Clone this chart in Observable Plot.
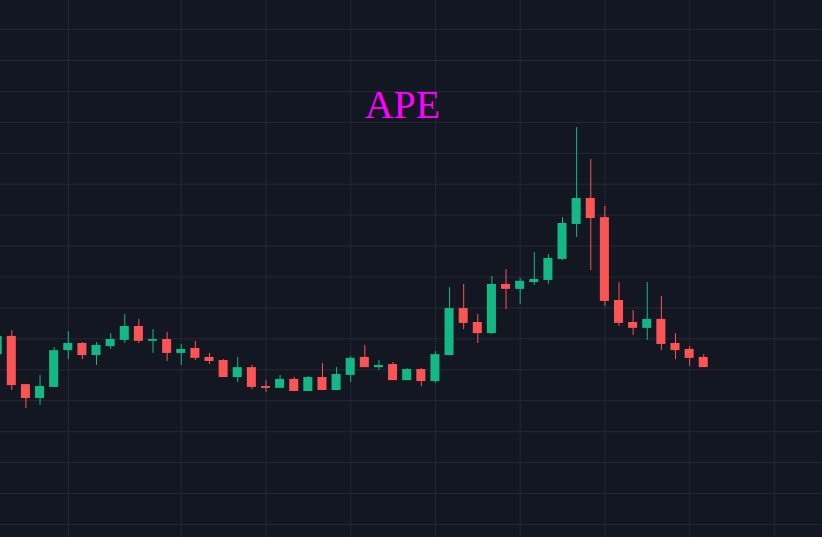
<!DOCTYPE html>
<html>
<head>
<meta charset="utf-8">
<script src="https://cdn.jsdelivr.net/npm/d3@7"></script>
<script src="https://cdn.jsdelivr.net/npm/@observablehq/plot@0.6"></script>
<style>
  html, body { margin: 0; padding: 0; background: #131722; overflow: hidden; }
  #chart svg { display: block; }
</style>
</head>
<body>
<div id="chart"></div>
<script>
const title = "APE";
// candle index (one per period), first one is partially cut at the left edge
const days = [-1,0,1,2,3,4,5,6,7,8,9,10,11,12,13,14,15,16,17,18,19,20,21,22,23,24,25,26,27,28,29,30,31,32,33,34,35,36,37,38,39,40,41,42,43,44,45,46,47,48,49];
const opens  = [10.49,11.08,9.52,9.07,9.43,10.62,10.85,10.46,10.75,10.95,11.40,10.92,10.98,10.53,10.69,10.40,10.30,9.75,10.07,9.46,9.40,9.69,9.30,9.75,9.33,9.82,10.40,10.07,10.17,9.65,10.01,9.62,10.46,11.98,11.53,11.17,12.76,12.60,12.82,12.89,13.57,14.70,15.54,14.92,12.24,11.53,11.34,11.63,10.85,10.66,10.40];
const highs  = [11.17,11.27,9.53,9.82,10.72,11.24,10.88,10.88,11.17,11.79,11.63,11.30,11.21,10.82,10.92,10.53,10.33,10.40,10.14,9.65,9.82,9.75,9.78,10.20,10.07,10.43,10.79,10.30,10.24,10.04,10.04,10.59,12.66,12.76,11.79,13.02,13.24,12.95,13.79,13.73,14.92,17.83,16.80,15.28,12.82,11.92,12.82,12.37,11.17,10.75,10.49];
const lows   = [10.43,9.33,8.75,8.85,9.43,10.33,10.33,10.14,10.66,10.85,10.85,10.53,10.27,10.14,10.30,10.17,9.75,9.59,9.36,9.27,9.40,9.30,9.30,9.33,9.33,9.59,10.07,9.98,9.65,9.65,9.46,9.56,10.46,11.30,10.85,11.14,11.95,12.11,12.73,12.76,13.53,14.28,13.21,12.05,11.40,11.11,10.95,10.62,10.33,10.11,10.07];
const closes = [11.08,9.49,9.07,9.46,10.62,10.85,10.46,10.79,10.98,11.40,10.92,10.98,10.53,10.66,10.37,10.27,9.75,10.07,9.43,9.40,9.69,9.30,9.75,9.33,9.85,10.37,10.07,10.14,9.65,10.01,9.62,10.49,11.98,11.50,11.17,12.76,12.60,12.86,12.92,13.60,14.73,15.54,14.89,12.21,11.50,11.34,11.63,10.82,10.62,10.37,10.07];
const xGridTicks = [4,12,18,24,30,36,42,48,54];
const yGridTicks = [5,6,7,8,9,10,11,12,13,14,15,16,17,18,19,20,21];

const upColor = "#14b885";
const downColor = "#fb5454";
const data = days.map((d, k) => ({day: d, open: opens[k], high: highs[k], low: lows[k], close: closes[k]}));
const col = d => d.close >= d.open ? upColor : downColor;
const half = 0.32;

const chart = Plot.plot({
  width: 822,
  height: 537,
  marginTop: 0, marginBottom: 0, marginLeft: 0, marginRight: 0,
  style: {background: "#131722"},
  x: {domain: [-0.8, 57.41], axis: null},
  y: {domain: [4.578, 21.94], axis: null},
  marks: [
    Plot.gridX(xGridTicks, {stroke: "#252936", strokeOpacity: 1}),
    Plot.gridY(yGridTicks, {stroke: "#252936", strokeOpacity: 1}),
    Plot.ruleX(data, {x: "day", y1: "low", y2: "high", stroke: col, strokeWidth: 1}),
    Plot.rect(data, {
      x1: d => d.day - half, x2: d => d.day + half,
      y1: d => Math.min(d.open, d.close),
      y2: d => Math.max(d.open, d.close) === Math.min(d.open, d.close) ? Math.max(d.open, d.close) + 0.05 : Math.max(d.open, d.close),
      fill: col
    }),
    Plot.text([title], {frameAnchor: "top", dx: -9, dy: 117, lineAnchor: "bottom", fill: "#ff00ff", fontSize: 40, fontFamily: "Liberation Serif, Times New Roman, serif"})
  ]
});
document.getElementById("chart").appendChild(chart);
</script>
</body>
</html>
